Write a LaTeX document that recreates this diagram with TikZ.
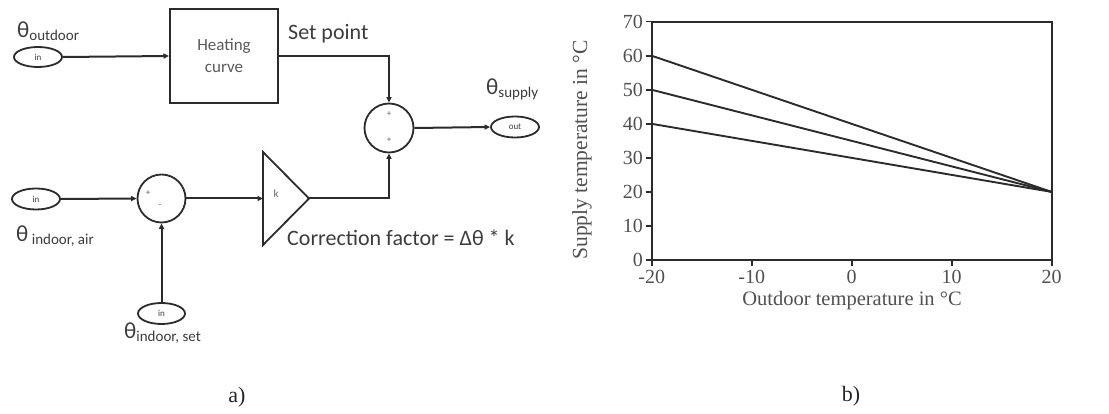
\documentclass[tikz,border=0pt]{standalone}
\usepackage{fontspec}
\setmainfont{Liberation Serif}
\newfontfamily\calfont{Carlito}
\usetikzlibrary{shapes.geometric,arrows.meta}
\definecolor{ink}{HTML}{2B2B2B}
\definecolor{txt}{HTML}{3C3C3C}
\definecolor{ptxt}{HTML}{505050}
\newcommand{\thsub}[2]{{\fontsize{23}{23}\selectfont θ}\raisebox{#2}{\fontsize{15}{15}\selectfont #1}}
\begin{document}
\begin{tikzpicture}[x=1pt,y=-1pt,
  wire/.style={line width=2pt, draw=ink, -{Triangle[length=5.5pt,width=5pt]}},
  port/.style={ellipse, draw=ink, line width=1.8pt, minimum width=48pt, minimum height=20pt, inner sep=0pt, font=\calfont\fontsize{9}{9}\selectfont, text=txt},
  sumnode/.style={circle, draw=ink, line width=1.8pt, minimum size=49pt, inner sep=0pt},
  blockbox/.style={draw=ink, line width=2pt, minimum width=108pt, minimum height=94pt, align=center, font=\calfont\fontsize{17}{22}\selectfont, text=black!65},
  lbl/.style={font=\calfont\fontsize{22}{22}\selectfont, text=txt, inner sep=0pt},
  sgn/.style={font=\calfont\fontsize{9}{9}\selectfont, text=black!60, inner sep=0pt},
  tickmark/.style={line width=1.6pt, draw=ink},
  tlab/.style={font=\fontsize{20}{20}\selectfont, text=ptxt, inner sep=0pt},
  curveline/.style={line width=1.9pt, draw=ink},
  captext/.style={font=\fontsize{22}{22}\selectfont, text=black!85, inner sep=0pt}
]
\useasboundingbox (0,0) rectangle (1109,414);

% ---------- block diagram a) ----------
\node[port] (inout) at (38,57) {in};
\node[blockbox] (hc) at (224,56) {Heating\\curve};
\node[sumnode] (sum) at (389,128) {};
\node[port, minimum height=21pt] (out) at (515,127) {out};
\node[port, minimum height=21pt] (inair) at (36,199) {in};
\node[sumnode, minimum size=48pt] (diff) at (161.5,198.5) {};
\node[port, minimum width=47pt, minimum height=21pt] (inset) at (161.5,313.5) {in};

% gain triangle
\coordinate (triL) at (263,198.5);
\coordinate (triO) at (309,198.5);
\draw[line width=1.8pt, draw=ink, line join=miter] (263,152) -- (triO) -- (263,245) -- cycle;
\node[sgn, font=\calfont\fontsize{11}{11}\selectfont] (kk) at (276,194) {k};

% signs
\node[sgn] (sp1) at (389,114) {+};
\node[sgn] (sp2) at (389,140) {+};
\node[sgn] (dp1) at (148,193) {+};
\node[sgn] (dm1) at (160,206) {-};

% connectors
\draw[wire] (inout.east) -- (hc.west);
\draw[wire] (hc.east) -| (sum.north);
\draw[wire] (sum.east) -- (out.west);
\draw[wire] (inair.east) -- (diff.west);
\draw[wire] (inset.north) -- (diff.south);
\draw[wire] (diff.east) -- (triL);
\draw[wire] (triO) -| (sum.south);

% labels
\node[lbl, anchor=base west] (thout) at (17,38) {\thsub{outdoor}{-3pt}};
\node[lbl, anchor=base west] (thsup) at (486,95) {\thsub{supply}{-3pt}};
\node[lbl, anchor=base west] (thair) at (16,242) {\thsub{\ indoor, air}{-3pt}};
\node[lbl, anchor=base west] (thset) at (124,338) {\thsub{indoor, set}{-3pt}};
\node[lbl, anchor=base west] (setp) at (288,40) {Set point};
\node[lbl, anchor=base west] (corr) at (287,246) {Correction factor = Δθ * k};

% ---------- chart b) ----------
\def\xa{651.7}\def\xb{1051.7}\def\ya{21.7}\def\yb{260}
\draw[line width=1.8pt, draw=ink] (\xa,\ya) rectangle (\xb,\yb);
\foreach \v in {0,10,...,70} {
  \pgfmathsetmacro{\yy}{260-\v*3.4043}
  \draw[tickmark] (646,\yy) -- (\xa,\yy);
  \node[tlab, anchor=east] (yl\v) at (643,\yy) {\v};
}
\foreach \v in {-20,-10,0,10,20} {
  \pgfmathsetmacro{\xx}{851.7+\v*10}
  \draw[tickmark] (\xx,\yb) -- (\xx,266);
  \node[tlab, anchor=north] (xl\v) at (\xx,270) {\v};
}
\coordinate (p20) at (\xb,{260-20*3.4043});
\draw[curveline] (\xa,{260-60*3.4043}) -- (p20);
\draw[curveline] (\xa,{260-50*3.4043}) -- (p20);
\draw[curveline] (\xa,{260-40*3.4043}) -- (p20);
\node[tlab, font=\fontsize{20.5}{20.5}\selectfont] (xt) at (852,301) {Outdoor temperature in °C};
\node[tlab, font=\fontsize{21.5}{21.5}\selectfont, rotate=90] (yt) at (582,150) {Supply temperature in °C};

% captions
\node[captext] (ca) at (237,397) {a)};
\node[captext] (cb) at (851,396) {b)};
\end{tikzpicture}
\end{document}
